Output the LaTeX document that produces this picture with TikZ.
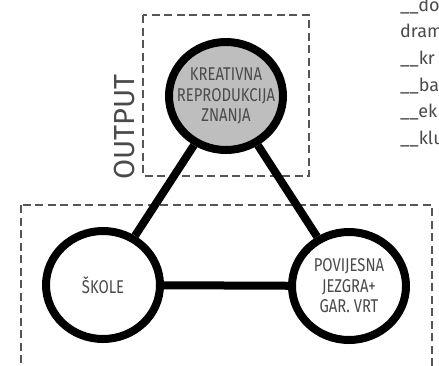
\documentclass[tikz,border=0pt]{standalone}
\usepackage{fontspec}
\setmainfont{Fira Sans}
\newfontfamily\narrowfont[FakeStretch=0.8]{Fira Sans}
\usetikzlibrary{shapes.geometric}
\definecolor{boxgray}{HTML}{555555}
\definecolor{txtgray}{HTML}{4A4A4A}
\definecolor{hubfill}{HTML}{BEBEBE}

\begin{document}
\begin{tikzpicture}[x=1pt,y=-1pt,
  every node/.style={font=\narrowfont\fontsize{18.5}{20.5}\selectfont,text=txtgray},
  hub/.style={ellipse,draw=black,line width=8pt,fill=white,minimum width=114pt,minimum height=108pt,inner sep=0pt},
  link/.style={line width=8pt},
  frame/.style={draw=boxgray,line width=1.8pt,dash pattern=on 8pt off 4.5pt}]
\useasboundingbox (0,0) rectangle (439,365);
\clip (0,0) rectangle (439,365);
% dashed frames
\draw[frame] (143,15) rectangle (309,176);
\draw[frame] (21,205) rectangle (432,380);
\node[rotate=90,font=\fontsize{29}{29}\selectfont] (output) at (125,127) {OUTPUT};
% circles
\node[hub,fill=hubfill,label={[align=center]center:{KREATIVNA\\REPRODUKCIJA\\ZNANJA}}] (znanje) at (226,96) {};
\node[hub,label={center:ŠKOLE}] (skole) at (103,285) {};
\node[hub,label={[align=center]center:{POVIJESNA\\JEZGRA+\\GAR. VRT}}] (jezgra) at (349,286) {};
\draw[link] (znanje) -- (skole);
\draw[link] (znanje) -- (jezgra);
\draw[link] (skole) -- (jezgra);
% notes on the right
\foreach \t [count=\i] in {\_\_do,dram,\_\_kr,\_\_ba,\_\_ek,\_\_klu}
  \node[anchor=base west,inner sep=0pt,font=\fontsize{18}{18}\selectfont] (note\i) at (400,{11+26.7*(\i-1)}) {\t};
\end{tikzpicture}
\end{document}
